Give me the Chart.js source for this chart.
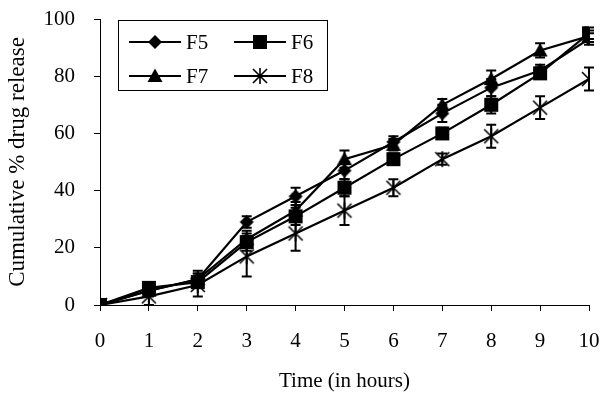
<!DOCTYPE html>
<html>
<head>
<meta charset="utf-8">
<script src="https://cdn.jsdelivr.net/npm/chart.js@4.4.1/dist/chart.umd.min.js"></script>
<style>
  html, body { margin: 0; padding: 0; background: #fff; }
  #wrap { width: 600px; height: 398px; }
</style>
</head>
<body>
<div id="wrap"><canvas id="c" width="600" height="398"></canvas></div>
<script>
// time points (hours)
const hours = [0, 1, 2, 3, 4, 5, 6, 7, 8, 9, 10];

// cumulative % drug release
const f5 = [0, 5, 9, 29, 38, 47, 57, 67, 76, 82, 93];
const f6 = [0, 6, 8, 22, 31, 41, 51, 60, 70, 81, 95];
const f7 = [0, 5, 9, 23, 33, 51, 56, 70, 79, 89, 94];
const f8 = [0, 3, 7, 17, 25, 33, 41, 51, 59, 69, 79];

// error bar half-heights (SD)
const f5Err = [0, 1, 2, 2, 3, 3, 2, 3, 3, 2, 2];
const f6Err = [0, 2, 2, 3, 3, 3, 2, 2, 3, 2, 2];
const f7Err = [0, 2, 3, 3, 3, 3, 2, 2, 3, 2.5, 2];
const f8Err = [0, 3, 4, 7, 6, 5, 3, 2, 4, 4, 4];

const seriesNames = ["F5", "F6", "F7", "F8"];
const yTicks = [0, 20, 40, 60, 80, 100];

// build marker images
function makeMarker(kind) {
  const s = 18;
  const cv = document.createElement("canvas");
  cv.width = s; cv.height = s;
  const g = cv.getContext("2d");
  g.fillStyle = "#000"; g.strokeStyle = "#000";
  const c = s / 2;
  if (kind === "diamond") {
    g.beginPath();
    g.moveTo(c, c - 7); g.lineTo(c + 7, c); g.lineTo(c, c + 7); g.lineTo(c - 7, c);
    g.closePath(); g.fill();
  } else if (kind === "square") {
    g.fillRect(c - 7, c - 7, 14, 14);
  } else if (kind === "triangle") {
    g.beginPath();
    g.moveTo(c, c - 7.5); g.lineTo(c + 7.5, c + 6); g.lineTo(c - 7.5, c + 6);
    g.closePath(); g.fill();
  } else {
    g.lineWidth = 1.6;
    g.beginPath();
    g.moveTo(c - 7, c - 7); g.lineTo(c + 7, c + 7);
    g.moveTo(c + 7, c - 7); g.lineTo(c - 7, c + 7);
    g.moveTo(c, c - 8); g.lineTo(c, c + 8);
    g.stroke();
  }
  return cv;
}
const markers = [makeMarker("diamond"), makeMarker("square"), makeMarker("triangle"), makeMarker("star")];
const allData = [f5, f6, f7, f8];
const allErr = [f5Err, f6Err, f7Err, f8Err];

// error bars drawn through the scales
const errorBars = {
  id: "errorBars",
  beforeDatasetsDraw(chart) {
    const ctx = chart.ctx;
    const xs = chart.scales.x, ys = chart.scales.y;
    ctx.save();
    ctx.strokeStyle = "#000";
    ctx.lineWidth = 2;
    allData.forEach((arr, i) => {
      arr.forEach((v, j) => {
        const e = allErr[i][j];
        if (!e) return;
        const px = xs.getPixelForValue(hours[j]);
        const top = ys.getPixelForValue(v + e);
        const bot = ys.getPixelForValue(v - e);
        ctx.beginPath();
        ctx.moveTo(px, top); ctx.lineTo(px, bot);
        ctx.moveTo(px - 5, top); ctx.lineTo(px + 5, top);
        ctx.moveTo(px - 5, bot); ctx.lineTo(px + 5, bot);
        ctx.stroke();
      });
    });
    ctx.restore();
  }
};

// boxed legend, two columns
const boxLegend = {
  id: "boxLegend",
  afterDraw(chart) {
    const ctx = chart.ctx;
    ctx.save();
    ctx.strokeStyle = "#000";
    ctx.lineWidth = 1;
    ctx.strokeRect(118.5, 20.5, 209, 70);
    ctx.font = "21px 'Liberation Serif', 'Times New Roman', serif";
    ctx.textBaseline = "middle";
    ctx.fillStyle = "#000";
    const cols = [129, 234];
    const rows = [42, 76];
    seriesNames.forEach((name, i) => {
      const x0 = cols[i % 2], y0 = rows[Math.floor(i / 2)];
      ctx.lineWidth = 2;
      ctx.beginPath();
      ctx.moveTo(x0, y0); ctx.lineTo(x0 + 52, y0);
      ctx.stroke();
      ctx.drawImage(markers[i], x0 + 26 - 9, y0 - 9);
      ctx.fillText(name, x0 + 57, y0 + 1);
    });
    ctx.restore();
  }
};

const datasets = allData.map((arr, i) => ({
  label: seriesNames[i],
  data: arr.map((v, j) => ({ x: hours[j], y: v })),
  borderColor: "#000",
  backgroundColor: "#000",
  borderWidth: 2.2,
  pointStyle: markers[i],
  pointRadius: 7,
  tension: 0
}));

const serif = "'Liberation Serif', 'Times New Roman', serif";

new Chart(document.getElementById("c"), {
  type: "line",
  data: { datasets },
  options: {
    responsive: false,
    animation: false,
    layout: { padding: { top: 19, right: 11, left: 0, bottom: 0 } },
    plugins: { legend: { display: false }, tooltip: { enabled: false } },
    scales: {
      x: {
        type: "linear",
        min: 0, max: 10,
        afterFit(s) { s.height = 93; s.paddingLeft = 0; s.paddingRight = 0; },
        afterBuildTicks(s) { s.ticks = hours.map(v => ({ value: v })); },
        grid: { display: true, drawOnChartArea: false, tickLength: 6, color: "#000" },
        border: { display: true, color: "#000", width: 1 },
        ticks: { color: "#000", font: { family: serif, size: 21 }, padding: 18, maxRotation: 0 },
        title: { display: true, text: "Time (in hours)", color: "#000", font: { family: serif, size: 21 }, padding: { top: 8 } }
      },
      y: {
        min: 0, max: 100,
        afterFit(s) { s.width = 100; s.paddingTop = 0; s.paddingBottom = 0; },
        afterBuildTicks(s) { s.ticks = yTicks.map(v => ({ value: v })); },
        grid: { display: true, drawOnChartArea: false, tickLength: 6, color: "#000" },
        border: { display: true, color: "#000", width: 1 },
        ticks: { color: "#000", font: { family: serif, size: 21 }, padding: 19 },
        title: { display: true, text: "Cumulative % drug release", color: "#000", font: { family: serif, size: 23 }, padding: { bottom: 2 } }
      }
    }
  },
  plugins: [errorBars, boxLegend]
});
</script>
</body>
</html>
